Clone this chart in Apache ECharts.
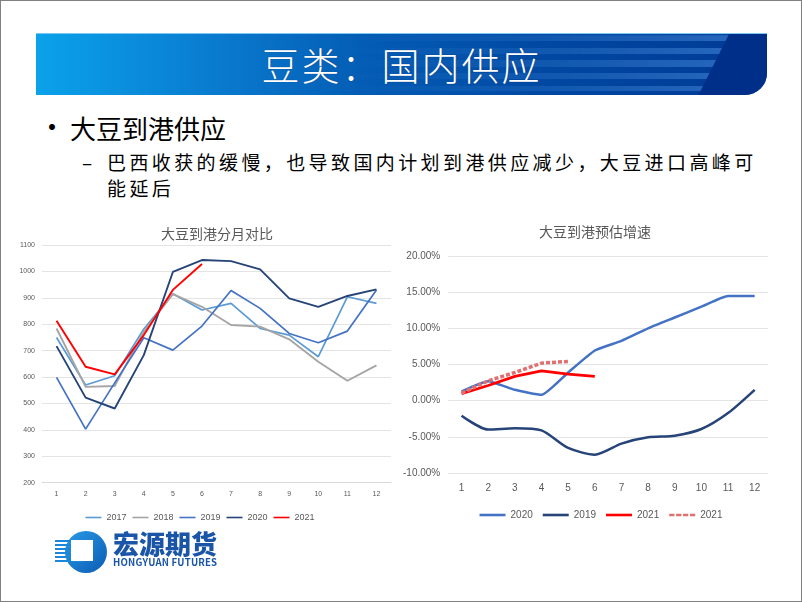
<!DOCTYPE html>
<html>
<head>
<meta charset="utf-8">
<script src="https://cdn.jsdelivr.net/npm/echarts@6/dist/echarts.min.js"></script>
<style>
  html, body { margin: 0; padding: 0; background: #fff; }
  body { width: 802px; height: 602px; position: relative; overflow: hidden; font-family: "Noto Sans CJK SC", "Noto Sans", sans-serif; }
  #frame { position: absolute; left: 0; top: 0; width: 802px; height: 602px; box-sizing: border-box; border: 1px solid #808080; z-index: 5; pointer-events: none; }
  #banner { position: absolute; left: 36px; top: 33px; width: 731px; height: 62px; border-bottom-right-radius: 22px; overflow: hidden;
    background: linear-gradient(to right, #0aa2ea 0%, #0a7fd2 22%, #045cb4 45%, #0048a2 70%, #003a96 100%); border-top: 1px solid #7cc8f2; box-sizing: border-box; }
  #stripes { position: absolute; left: 300px; top: 0; width: 400px; height: 62px;
    background: linear-gradient(to bottom, transparent 0px, rgba(70,140,220,0.55) 2px, rgba(70,140,220,0.55) 7px, transparent 7px, transparent 14px, rgba(70,140,220,0.55) 14px, rgba(70,140,220,0.55) 20px, transparent 20px, transparent 26px, rgba(70,140,220,0.55) 26px, rgba(70,140,220,0.55) 33px, transparent 33px, transparent 39px, rgba(70,140,220,0.55) 39px, rgba(70,140,220,0.55) 45px, transparent 45px, transparent 52px, rgba(70,140,220,0.55) 52px, rgba(70,140,220,0.55) 57px, transparent 57px);
    -webkit-mask-image: linear-gradient(to right, transparent 0%, rgba(0,0,0,0.4) 50%, #000 100%); mask-image: linear-gradient(to right, transparent 0%, rgba(0,0,0,0.4) 50%, #000 100%); }
  #banner-end { position: absolute; left: 0; top: 0; width: 731px; height: 62px; background: #002f8a; clip-path: polygon(693px 0, 731px 0, 731px 62px, 662px 62px); }
  #banner-title { position: absolute; left: 0; top: 0; width: 731px; height: 60px; line-height: 60px; text-align: center; color: #fff; font-size: 38px; font-weight: 300; letter-spacing: 2px; text-shadow: 0 0 1px rgba(40,40,80,0.6); }
  .txt { position: absolute; white-space: nowrap; color: #000; }
  #bullet { left: 38px; top: 108px; font-size: 28px; line-height: 36px; }
  #b1 { left: 70px; top: 110px; font-size: 26px; line-height: 36px; }
  #dash { left: 82px; top: 148px; font-size: 19px; line-height: 27px; }
  #sub { left: 107px; top: 149px; font-size: 19px; line-height: 26px; letter-spacing: 3.4px; }
  #chartL { position: absolute; left: 0; top: 200px; width: 400px; height: 340px; }
  #chartR { position: absolute; left: 400px; top: 200px; width: 402px; height: 340px; }
  #logo { position: absolute; left: 55px; top: 530px; width: 180px; height: 45px; }
  #logo-circle { position: absolute; left: 10px; top: 1px; width: 42px; height: 42px; border-radius: 50%; background: linear-gradient(135deg, #2a9be6, #0b5cb4); }
  #logo-square { position: absolute; left: 16px; top: 10px; width: 22px; height: 21px; background: #fff; }
  .ls { position: absolute; left: 0; height: 2px; background: #1c86d9; }
  #logo-cn { position: absolute; left: 58px; top: 0px; font-size: 26px; line-height: 26px; font-weight: 900; color: #1a55a8; letter-spacing: 0px; }
  #logo-en { position: absolute; left: 58px; top: 27px; font-size: 9.6px; line-height: 11px; font-weight: 700; color: #1a55a8; letter-spacing: 0.2px; }
</style>
</head>
<body>
<div id="banner">
  <div id="stripes"></div>
  <div id="banner-end"></div>
  <div id="banner-title">豆类：国内供应</div>
</div>
<div class="txt" id="bullet">•</div>
<div class="txt" id="b1">大豆到港供应</div>
<div class="txt" id="dash">–</div>
<div class="txt" id="sub">巴西收获的缓慢，也导致国内计划到港供应减少，大豆进口高峰可<br>能延后</div>
<div id="chartL"></div>
<div id="chartR"></div>
<div id="logo">
  <div id="logo-circle"></div>
  <div class="ls" style="top:10px;width:28px"></div>
  <div class="ls" style="top:14px;width:28px"></div>
  <div class="ls" style="top:18px;width:28px"></div>
  <div class="ls" style="top:22px;width:28px"></div>
  <div class="ls" style="top:26px;width:28px"></div>
  <div class="ls" style="top:30px;width:28px"></div>
  <div id="logo-square"></div>
  <div id="logo-cn">宏源期货</div>
  <div id="logo-en">HONGYUAN FUTURES</div>
</div>
<div id="frame"></div>
<script>
// ---- Left chart data: 大豆到港分月对比 (万吨) ----
var months = ['1','2','3','4','5','6','7','8','9','10','11','12'];
var leftTitle = '大豆到港分月对比';
var arr2017 = [750, 570, 605, 782, 915, 854, 879, 784, 759, 677, 904, 879];
var arr2018 = [784, 563, 566, 772, 914, 866, 797, 791, 743, 658, 586, 644];
var arr2019 = [599, 403, 578, 749, 702, 793, 928, 860, 765, 730, 774, 930];
var arr2020 = [717, 522, 481, 683, 998, 1043, 1039, 1008, 898, 866, 907, 932];
var arr2021 = [813, 639, 610, 759, 930, 1028];

// ---- Right chart data: 大豆到港预估增速 (%) ----
var rightTitle = '大豆到港预估增速';
var growth2020 = [1.28, 2.7, 1.5, 0.82, 3.9, 6.94, 8.27, 10.0, 11.5, 13.0, 14.48, 14.48];
var growth2019 = [-2.08, -4.0, -3.8, -4.1, -6.54, -7.46, -5.94, -5.07, -4.84, -3.92, -1.71, 1.5];
var growth2021 = [0.96, 2.1, 3.35, 4.13, 3.67, 3.35];
var growth2021Est = [1.05, 2.75, 3.9, 5.19, 5.42];

var gray = '#595959';
var solidIcon = 'path://M0,0H20V2H0Z';
var dashIcon = 'path://M0,0H4V2H0Z M5.3,0H9.3V2H5.3Z M10.6,0H14.6V2H10.6Z M15.9,0H19.9V2H15.9Z';

var chartL = echarts.init(document.getElementById('chartL'));
function lineS(name, data, color, w) {
  return { name: name, type: 'line', data: data, symbol: 'none', smooth: false,
    lineStyle: { color: color, width: w }, itemStyle: { color: color } };
}
chartL.setOption({
  animation: false,
  title: { text: leftTitle, left: 212, top: 22, textAlign: 'center',
    textStyle: { fontSize: 14, fontWeight: 'normal', color: gray, fontFamily: 'Noto Sans CJK SC' } },
  grid: { left: 42, top: 45, width: 349, height: 237.7 },
  legend: { bottom: 13, left: 'center', itemWidth: 16, itemHeight: 2, itemGap: 6, icon: solidIcon,
    textStyle: { fontSize: 9, color: gray }, data: ['2017','2018','2019','2020','2021'] },
  xAxis: { type: 'category', data: months, boundaryGap: true,
    axisLine: { lineStyle: { color: '#D9D9D9' } }, axisTick: { show: false },
    axisLabel: { fontSize: 7, color: gray, margin: 8 } },
  yAxis: { type: 'value', min: 200, max: 1100, interval: 100,
    axisLine: { show: false }, axisTick: { show: false },
    axisLabel: { fontSize: 7, color: gray, margin: 7, formatter: function (v) { return String(v); } },
    splitLine: { lineStyle: { color: '#E4E4E4' } } },
  series: [
    lineS('2017', arr2017, '#5B9BD5', 1.7),
    lineS('2018', arr2018, '#A5A5A5', 1.9),
    lineS('2019', arr2019, '#4472C4', 1.7),
    lineS('2020', arr2020, '#264478', 1.9),
    lineS('2021', arr2021, '#FF0000', 1.9)
  ]
});

var chartR = echarts.init(document.getElementById('chartR'));
chartR.setOption({
  animation: false,
  title: { text: rightTitle, left: 190, top: 20, textAlign: 'center',
    textStyle: { fontSize: 14, fontWeight: 'normal', color: gray, fontFamily: 'Noto Sans CJK SC' } },
  grid: { left: 43, top: 56, width: 325, height: 217 },
  legend: { bottom: 15, left: 'center', itemWidth: 26, itemHeight: 3, itemGap: 10,
    textStyle: { fontSize: 10, color: gray },
    formatter: function (n) { return n.indexOf('2021') === 0 ? '2021' : n; },
    data: [
      { name: '2020', icon: solidIcon },
      { name: '2019', icon: solidIcon },
      { name: '2021', icon: solidIcon },
      { name: '2021预估', icon: dashIcon }
    ] },
  xAxis: { type: 'category', data: months, boundaryGap: true,
    axisLine: { show: false }, axisTick: { show: false },
    axisLabel: { fontSize: 10, color: gray, margin: 10 } },
  yAxis: { type: 'value', min: -10, max: 20, interval: 5,
    axisLine: { show: false }, axisTick: { show: false },
    axisLabel: { fontSize: 10, color: gray, margin: 8, formatter: function (v) { return v.toFixed(2) + '%'; } },
    splitLine: { lineStyle: { color: '#E4E4E4' } } },
  series: [
    { name: '2020', type: 'line', data: growth2020, symbol: 'none', smooth: 0.15,
      lineStyle: { color: '#4472C4', width: 2.5 }, itemStyle: { color: '#4472C4' } },
    { name: '2019', type: 'line', data: growth2019, symbol: 'none', smooth: 0.25,
      lineStyle: { color: '#264478', width: 2.5 }, itemStyle: { color: '#264478' } },
    { name: '2021', type: 'line', data: growth2021, symbol: 'none', smooth: false,
      lineStyle: { color: '#FF0000', width: 2.8 }, itemStyle: { color: '#FF0000' } },
    { name: '2021预估', type: 'line', data: growth2021Est, symbol: 'none', smooth: false,
      lineStyle: { color: '#E07070', width: 3.5, type: [4, 2] }, itemStyle: { color: '#E07070' } }
  ]
});
</script>
</body>
</html>
